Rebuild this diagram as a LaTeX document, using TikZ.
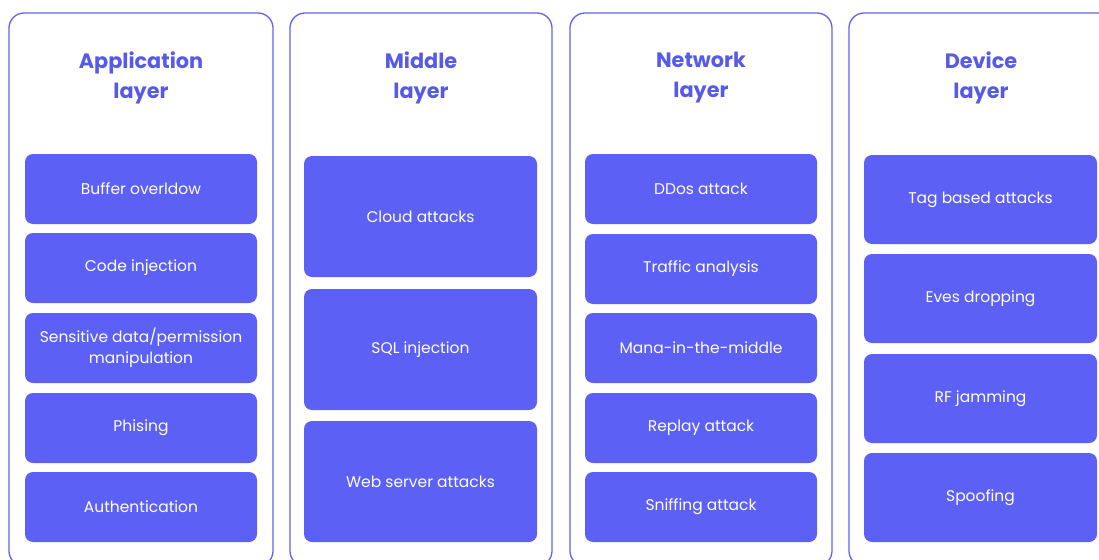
\documentclass[tikz,border=0pt]{standalone}
\usepackage{fontspec}
\setmainfont{Poppins}
\begin{document}
\definecolor{panelline}{RGB}{98,100,240}
\definecolor{boxfill}{RGB}{92,96,245}
\definecolor{titleink}{RGB}{86,90,232}
\tikzset{
  x=1pt, y=-1pt,
  panel/.style={draw=panelline, line width=1.3pt, rounded corners=15pt, fill=white},
  item/.style={fill=boxfill, rounded corners=8pt, text=white, font=\fontsize{15.5}{21}\selectfont,
    align=center, inner sep=0pt},
  heading/.style={text=titleink, font=\fontsize{20.8}{30}\bfseries\selectfont, align=center}
}
\begin{tikzpicture}
\useasboundingbox (0,0) rectangle (1099,559);
% layer panels
\draw[panel] (9,13) rectangle (273,566);
\draw[panel] (290,13) rectangle (552,566);
\draw[panel] (570,13) rectangle (832,566);
\draw[panel] (849,13) rectangle (1115,566);
% headings
\node[heading] (happ) at (141,78) {Application\\layer};
\node[heading] (hmid) at (421,78) {Middle\\layer};
\node[heading] (hnet) at (701,78) {Network\\layer};
\node[heading] (hdev) at (981,78) {Device\\layer};
% application layer
\node[item, minimum width=232pt, minimum height=70pt] (a1) at (141,189) {Buffer overldow};
\node[item, minimum width=232pt, minimum height=70pt] (a2) at (141,268) {Code injection};
\node[item, minimum width=232pt, minimum height=70pt] (a3) at (141,348) {Sensitive data/permission\\manipulation};
\node[item, minimum width=232pt, minimum height=70pt] (a4) at (141,428) {Phising};
\node[item, minimum width=232pt, minimum height=70pt] (a5) at (141,507) {Authentication};
% middle layer
\node[item, minimum width=233pt, minimum height=121pt] (m1) at (420.5,216.5) {Cloud attacks};
\node[item, minimum width=233pt, minimum height=121pt] (m2) at (420.5,349.5) {SQL injection};
\node[item, minimum width=233pt, minimum height=121pt] (m3) at (420.5,481.5) {Web server attacks};
% network layer
\node[item, minimum width=232pt, minimum height=70pt] (n1) at (701,189) {DDos attack};
\node[item, minimum width=232pt, minimum height=70pt] (n2) at (701,269) {Traffic analysis};
\node[item, minimum width=232pt, minimum height=70pt] (n3) at (701,348) {Mana-in-the-middle};
\node[item, minimum width=232pt, minimum height=70pt] (n4) at (701,428) {Replay attack};
\node[item, minimum width=232pt, minimum height=70pt] (n5) at (701,507) {Sniffing attack};
% device layer
\node[item, minimum width=233pt, minimum height=89pt] (d1) at (980.5,199.5) {Tag based attacks};
\node[item, minimum width=233pt, minimum height=89pt] (d2) at (980.5,298.5) {Eves dropping};
\node[item, minimum width=233pt, minimum height=89pt] (d3) at (980.5,398.5) {RF jamming};
\node[item, minimum width=233pt, minimum height=89pt] (d4) at (980.5,497.5) {Spoofing};
\end{tikzpicture}
\end{document}
